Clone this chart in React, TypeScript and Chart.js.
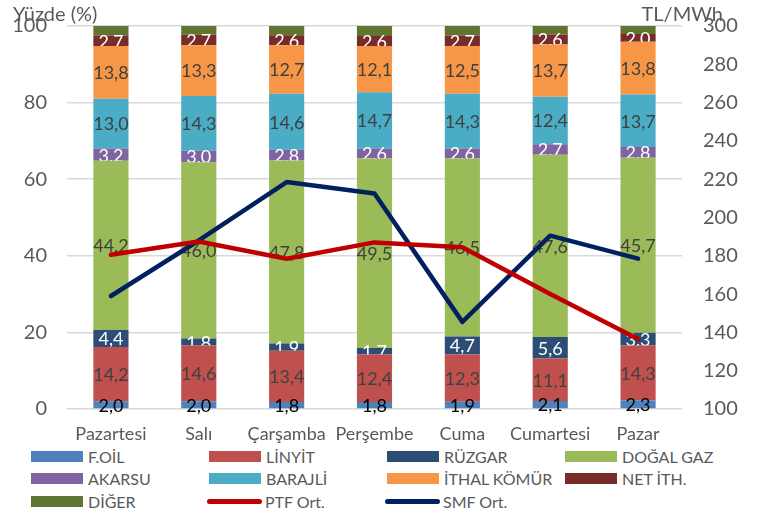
import React, { useEffect, useRef } from "react";
import { Chart, registerables } from "chart.js";

Chart.register(...registerables);

const days = ["Pazartesi", "Salı", "Çarşamba", "Perşembe", "Cuma", "Cumartesi", "Pazar"];

const foil = [2.0, 2.0, 1.8, 1.8, 1.9, 2.1, 2.3];
const linyit = [14.2, 14.6, 13.4, 12.4, 12.3, 11.1, 14.3];
const ruzgar = [4.4, 1.8, 1.9, 1.7, 4.7, 5.6, 3.3];
const dogalGaz = [44.2, 46.0, 47.8, 49.5, 46.5, 47.6, 45.7];
const akarsu = [3.2, 3.0, 2.8, 2.6, 2.6, 2.7, 2.8];
const barajli = [13.0, 14.3, 14.6, 14.7, 14.3, 12.4, 13.7];
const ithalKomur = [13.8, 13.3, 12.7, 12.1, 12.5, 13.7, 13.8];
const netIth = [2.7, 2.7, 2.6, 2.6, 2.7, 2.6, 2.0];
const diger = [2.5, 2.3, 2.4, 2.6, 2.5, 2.2, 2.1];

const ptfOrt = [180.5, 187.5, 178.5, 187.0, 184.5, 160.0, 136.5];
const smfOrt = [159.0, 188.0, 218.5, 212.5, 145.5, 190.5, 178.5];

const leftTicks = [0, 20, 40, 60, 80, 100];
const rightTicks = [100, 120, 140, 160, 180, 200, 220, 240, 260, 280, 300];

const FONT = "Lato, 'Open Sans', sans-serif";
const GRAY = "#595959";

type BarDef = { label: string; data: number[]; color: string; labelColor: string | null };

const barDefs: BarDef[] = [
  { label: "F.OİL", data: foil, color: "#4F81BD", labelColor: "#000000" },
  { label: "LİNYİT", data: linyit, color: "#C0504D", labelColor: "#404040" },
  { label: "RÜZGAR", data: ruzgar, color: "#2C4D75", labelColor: "#FFFFFF" },
  { label: "DOĞAL GAZ", data: dogalGaz, color: "#9BBB59", labelColor: "#404040" },
  { label: "AKARSU", data: akarsu, color: "#8064A2", labelColor: "#FFFFFF" },
  { label: "BARAJLİ", data: barajli, color: "#4BACC6", labelColor: "#404040" },
  { label: "İTHAL KÖMÜR", data: ithalKomur, color: "#F79646", labelColor: "#404040" },
  { label: "NET İTH.", data: netIth, color: "#772C2A", labelColor: "#FFFFFF" },
  { label: "DİĞER", data: diger, color: "#5F7530", labelColor: null },
];

const lineDefs = [
  { label: "PTF Ort.", data: ptfOrt, color: "#C00000" },
  { label: "SMF Ort.", data: smfOrt, color: "#002060" },
];

const labelPlugin = {
  id: "segLabels",
  afterDatasetDraw(chart: any, args: any) {
    const ds = chart.data.datasets[args.index];
    if (!ds._labelColor) return;
    const ctx = chart.ctx;
    const meta = args.meta;
    ctx.save();
    ctx.font = `18px ${FONT}`;
    ctx.fillStyle = ds._labelColor;
    ctx.textAlign = "center";
    ctx.textBaseline = "middle";
    meta.data.forEach((el: any, i: number) => {
      const p = el.getProps(["x", "y", "base"], true);
      const v = ds.data[i] as number;
      ctx.fillText(v.toFixed(1).replace(".", ","), p.x, (p.y + p.base) / 2 + 1);
    });
    ctx.restore();
  },
  afterDraw(chart: any) {
    const ctx = chart.ctx;
    const a = chart.chartArea;
    ctx.save();
    ctx.font = `20px ${FONT}`;
    ctx.fillStyle = GRAY;
    ctx.textBaseline = "middle";
    ctx.textAlign = "left";
    ctx.fillText("Yüzde (%)", a.left - 54, a.top - 11);
    ctx.textAlign = "right";
    ctx.fillText("TL/MWh", a.right + 41, a.top - 11);
    ctx.restore();
  },
};

export default function App() {
  const ref = useRef<HTMLCanvasElement | null>(null);

  useEffect(() => {
    if (!ref.current) return;
    const datasets: any[] = [
      ...barDefs.map((b) => ({
        type: "bar",
        label: b.label,
        data: b.data,
        backgroundColor: b.color,
        borderWidth: 0,
        yAxisID: "y",
        stack: "s",
        order: 2,
        barPercentage: 0.4,
        categoryPercentage: 1,
        _labelColor: b.labelColor,
      })),
      ...lineDefs.map((l) => ({
        type: "line",
        label: l.label,
        data: l.data,
        borderColor: l.color,
        backgroundColor: l.color,
        borderWidth: 4.5,
        pointRadius: 0,
        tension: 0,
        borderJoinStyle: "round",
        borderCapStyle: "round",
        yAxisID: "y1",
        order: 0,
      })),
    ];
    const chart = new Chart(ref.current, {
      type: "bar",
      data: { labels: days, datasets },
      options: {
        responsive: false,
        animation: false,
        layout: { padding: { top: 32, left: 0, right: 0, bottom: 0 } },
        plugins: { legend: { display: false }, tooltip: { enabled: false } },
        scales: {
          x: {
            stacked: true,
            grid: { display: false, drawTicks: false },
            border: { display: false },
            ticks: { color: GRAY, font: { family: FONT, size: 18 }, padding: 14, maxRotation: 0, autoSkip: false },
            afterFit: (s: any) => { s.height = 36; },
          },
          y: {
            stacked: true,
            position: "left",
            min: 0,
            max: 100,
            afterBuildTicks: (s: any) => { s.ticks = leftTicks.map((v) => ({ value: v })); },
            grid: { color: "#D9D9D9", lineWidth: 1.5, drawTicks: false },
            border: { display: false },
            ticks: { color: GRAY, font: { family: FONT, size: 20 }, padding: 20 },
            afterFit: (s: any) => { s.width = 67; },
          },
          y1: {
            stacked: false,
            position: "right",
            min: 100,
            max: 300,
            afterBuildTicks: (s: any) => { s.ticks = rightTicks.map((v) => ({ value: v })); },
            grid: { display: false, drawTicks: false },
            border: { display: false },
            ticks: { color: GRAY, font: { family: FONT, size: 20 }, padding: 21 },
            afterFit: (s: any) => { s.width = 81; },
          },
        },
      },
      plugins: [labelPlugin],
    } as any);
    return () => chart.destroy();
  }, []);

  const legendItems = [
    ...barDefs.map((b) => ({ label: b.label, color: b.color, line: false })),
    ...lineDefs.map((l) => ({ label: l.label, color: l.color, line: true })),
  ];
  const rowCenters = [456, 478.5, 501];

  return (
    <div style={{ position: "absolute", left: 0, top: 0, width: 763, height: 510, background: "#fff", overflow: "hidden" }}>
      <canvas ref={ref} width={763} height={452} style={{ position: "absolute", left: 0, top: -7 }} />
      {legendItems.map((it, i) => {
        const col = i % 4;
        const row = Math.floor(i / 4);
        return (
          <div
            key={it.label}
            style={{
              position: "absolute",
              left: 31 + col * 178 - (it.line ? 2 : 0),
              top: rowCenters[row] - 11,
              height: 22,
              display: "flex",
              alignItems: "center",
              fontFamily: FONT,
              fontSize: 16,
              color: GRAY,
              whiteSpace: "nowrap",
            }}
          >
            <span
              style={{
                display: "inline-block",
                width: it.line ? 55 : 52,
                height: it.line ? 5 : 11,
                borderRadius: it.line ? 3 : 0,
                background: it.color,
                marginRight: it.line ? 3 : 5,
              }}
            />
            <span>{it.label}</span>
          </div>
        );
      })}
    </div>
  );
}
